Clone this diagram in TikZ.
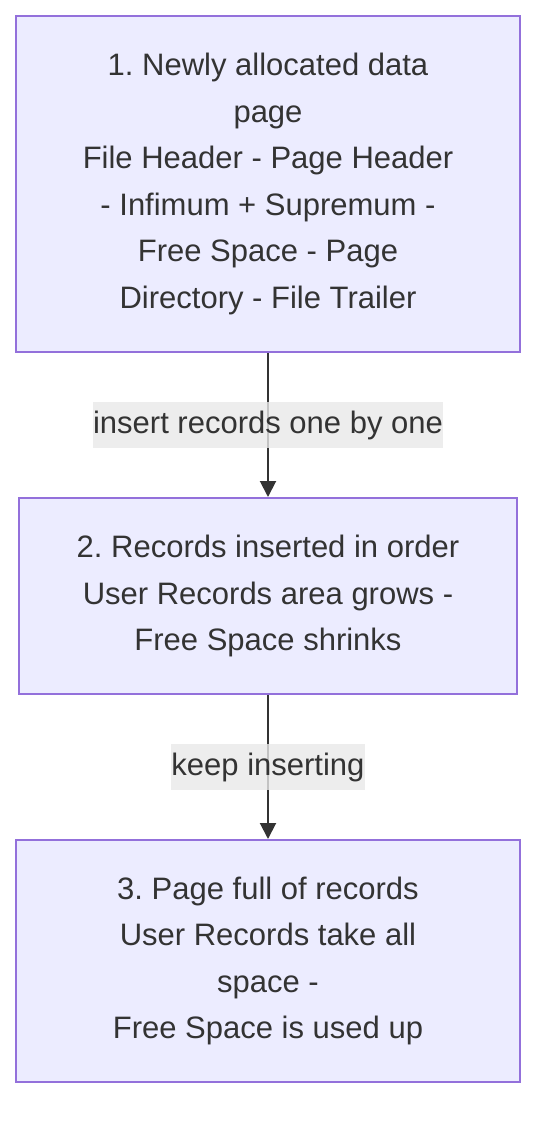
\documentclass[tikz,border=0pt]{standalone}
\usepackage{fontspec}
\setmainfont{Liberation Sans}
\usetikzlibrary{arrows.meta}
\frenchspacing
\definecolor{boxfill}{HTML}{ECECFF}
\definecolor{boxline}{HTML}{9370DB}
\definecolor{ink}{HTML}{333333}
\definecolor{lblbg}{HTML}{E8E8E8}
\tikzset{
  stagebox/.style={draw=boxline, fill=boxfill, line width=2pt, rectangle, align=center,
    text=ink, inner sep=0pt, font=\fontsize{31}{46.5}\selectfont},
  flowarrow/.style={draw=ink, line width=2pt, -{Triangle[length=16pt,width=16pt]}},
  edgelbl/.style={fill=lblbg, fill opacity=0.8, text opacity=1, text=ink, inner xsep=0pt,
    inner ysep=0pt, minimum height=46pt, font=\fontsize{31}{46.5}\selectfont}
}
\begin{document}
\begin{tikzpicture}[x=1pt,y=-1pt]
\useasboundingbox (0,0) rectangle (552,1132);
\node[stagebox, minimum width=504pt, minimum height=336pt] (s1) at (268,184)
  {1. Newly allocated data\\page\\File Header - Page Header\\- Infimum + Supremum -\\Free Space - Page\\Directory - File Trailer};
\node[stagebox, minimum width=498pt, minimum height=196pt] (s2) at (268,596)
  {2. Records inserted in order\\User Records area grows -\\Free Space shrinks};
\node[stagebox, minimum width=504pt, minimum height=242pt] (s3) at (268,961)
  {3. Page full of records\\User Records take all\\space -\\Free Space is used up};
\draw[flowarrow] (s1.south) -- (s2.north) node[pos=0.5, edgelbl] (l1) {insert records one by one};
\draw[flowarrow] (s2.south) -- (s3.north) node[pos=0.5, edgelbl] (l2) {keep inserting};
\end{tikzpicture}
\end{document}
